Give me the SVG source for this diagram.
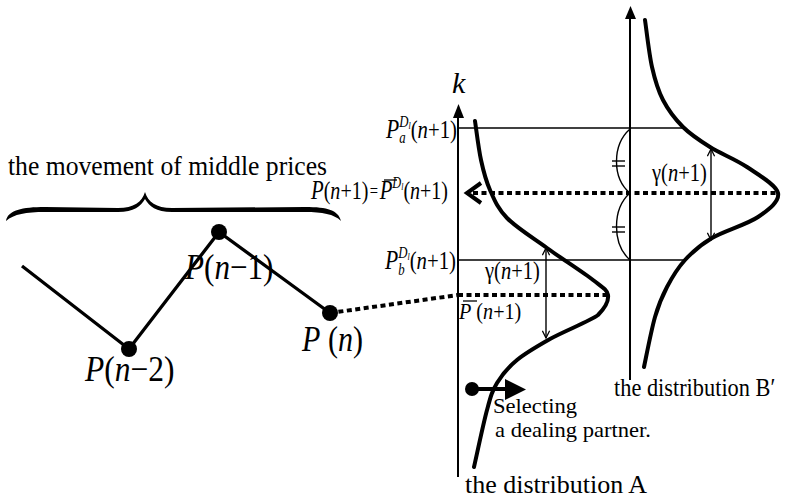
<svg xmlns="http://www.w3.org/2000/svg" width="800" height="501" viewBox="0 0 800 501">
<defs>
<style>
.t{font-family:"Liberation Serif","Times New Roman",serif;fill:#000}
.i{font-style:italic}
.thin{stroke:#000;stroke-width:1.4;fill:none}
.axis{stroke:#000;stroke-width:2;fill:none}
.curve{stroke:#000;stroke-width:4;fill:none;stroke-linecap:round}
.dash{stroke:#000;stroke-width:4;fill:none;stroke-dasharray:5 3.5}
.solid{stroke:#000;stroke-width:3.3;fill:none}
.ov{stroke:#000;stroke-width:1.3}
</style>
<marker id="vh" viewBox="0 0 10 10" refX="9" refY="5" markerWidth="9" markerHeight="9" markerUnits="userSpaceOnUse" orient="auto-start-reverse">
<path d="M1,1 L9,5 L1,9" fill="none" stroke="#000" stroke-width="1.4"/>
</marker>
</defs>
<rect width="800" height="501" fill="#fff"/>

<g id="price-path">
<text class="t" transform="translate(8,175) scale(0.95,1)" font-size="27">the movement of middle prices</text>
<path d="M6,221 C8,210 22,207 45,207 L118,208 C134,208 142,202 145,192 C148,202 156,208 172,208 L305,207 C328,207 338,210 341,221 C334,214 322,212 305,212 L172,212 C156,212 149,206 145,199 C141,206 134,212 118,212 L45,212 C26,212 14,214 6,221 Z" fill="#000"/>
<polyline class="solid" points="22,266 129,349 219,232 330,313"/>
</g>
<g id="node-pn2"><circle cx="129" cy="349" r="8"/><text class="t" transform="translate(85,381) scale(0.9,1)" font-size="35"><tspan class="i">P</tspan>(<tspan class="i">n</tspan>−2)</text></g>
<g id="node-pn1"><circle cx="219" cy="232" r="8"/><text class="t" transform="translate(185,279) scale(0.89,1)" font-size="35"><tspan class="i">P</tspan>(<tspan class="i">n</tspan>−1)</text></g>
<g id="node-pn"><circle cx="330" cy="313" r="8"/><text class="t" transform="translate(302,351) scale(0.86,1)" font-size="35"><tspan class="i">P</tspan> (<tspan class="i">n</tspan>)</text></g>

<g id="axis-A">
<line class="axis" x1="458" y1="116" x2="458" y2="477"/>
<polygon points="458.5,104 453,118 464,118"/>
<text class="t i" x="452" y="93" font-size="30">k</text>
<line class="thin" x1="458" y1="128" x2="683" y2="128"/>
<line class="thin" x1="458" y1="260" x2="685" y2="260"/>
</g>

<g id="axis-B">
<line class="axis" x1="630" y1="16" x2="630" y2="380"/>
<polygon points="630.5,6 625,19 636,19"/>
<path class="thin" d="M630,129 C612,145 612,178 630,193"/>
<path class="thin" d="M630,193 C612,209 612,244 630,260"/>
<line class="thin" x1="612" y1="161" x2="625" y2="161"/>
<line class="thin" x1="612" y1="166" x2="625" y2="166"/>
<line class="thin" x1="612" y1="227" x2="625" y2="227"/>
<line class="thin" x1="612" y1="232" x2="625" y2="232"/>
</g>

<g id="dist-A">
<path class="curve" d="M475,121 C476,127.5 478.5,148.5 481,160 C483.5,171.5 485.7,180.3 490,190 C494.3,199.7 497.5,208.3 507,218 C516.5,227.7 532.7,237.7 547,248 C561.3,258.3 582.8,272.2 593,280 C603.2,287.8 606.8,289.5 608,295 C608.8,300.5 606,307 598,315 C590.3,321 563.8,331.2 550,339 C536.2,346.8 525.8,352.7 517,360 C508.2,367.3 502,374.7 497,383 C492,391.3 490.8,396 487,410 C483.2,424 476.2,457.5 474,467"/>
<line class="thin" x1="546" y1="248" x2="546" y2="338" marker-start="url(#vh)" marker-end="url(#vh)"/>
<text class="t" transform="translate(485,279) scale(0.82,1)" font-size="25">γ(<tspan class="i">n</tspan>+1)</text>
<text class="t" transform="translate(459,319) scale(0.84,1)" font-size="24"><tspan class="i">P</tspan> (<tspan class="i">n</tspan>+1)</text>
<line class="ov" x1="463" y1="301" x2="477" y2="301"/>
<text class="t" x="465" y="493" font-size="26" textLength="182" lengthAdjust="spacingAndGlyphs">the distribution A</text>
</g>

<g id="dist-B">
<path class="curve" d="M645,20 C646.2,27.8 649,53.7 652,67 C655,80.3 657.8,90 663,100 C668.2,110 675.2,119.2 683,127 C690.8,134.8 699.3,140.3 710,147 C720.7,153.7 735.7,159.3 747,167 C758.3,174.7 776.2,184.7 778,193 C779.8,201.3 769,209.5 758,217 C747,224.5 724.2,230.8 712,238 C699.8,245.2 692.5,251.8 685,260 C677.5,268.2 672,277.5 667,287 C662,296.5 658.8,303.7 655,317 C651.2,330.3 645.8,358.7 644,367"/>
<line class="thin" x1="711" y1="149" x2="711" y2="240" marker-start="url(#vh)" marker-end="url(#vh)"/>
<text class="t" transform="translate(652,181) scale(0.82,1)" font-size="25">γ(<tspan class="i">n</tspan>+1)</text>
<text class="t" transform="translate(614,396) scale(0.86,1)" font-size="26">the distribution B′</text>
</g>

<g id="labels">
<text class="t" transform="translate(386,138) scale(0.8,1)" font-size="26"><tspan class="i" font-size="27">P</tspan><tspan class="i" font-size="16" dy="5">a</tspan><tspan class="i" font-size="16" dx="-8" dy="-16">D</tspan><tspan class="i" font-size="10" dy="2">l</tspan><tspan dy="9">(</tspan><tspan class="i">n</tspan>+1)</text>

<text class="t" transform="translate(385,269) scale(0.8,1)" font-size="26"><tspan class="i" font-size="27">P</tspan><tspan class="i" font-size="16" dy="6">b</tspan><tspan class="i" font-size="16" dx="-8" dy="-17">D</tspan><tspan class="i" font-size="10" dy="2">l</tspan><tspan dy="9">(</tspan><tspan class="i">n</tspan>+1)</text>

<text class="t" transform="translate(311,199) scale(0.77,1)" font-size="26"><tspan class="i" font-size="27">P</tspan>(<tspan class="i">n</tspan>+1)<tspan dx="2" dy="-2" font-size="19">=</tspan><tspan class="i" font-size="27" dx="2" dy="2">P</tspan><tspan class="i" font-size="16" dy="-11">D</tspan><tspan class="i" font-size="10" dy="2">l</tspan><tspan dy="9">(</tspan><tspan class="i">n</tspan>+1)</text>
<line class="ov" x1="384" y1="180" x2="397" y2="180"/>
</g>

<g id="partner">
<circle cx="472" cy="389" r="7"/>
<line x1="472" y1="389" x2="507" y2="389" stroke="#000" stroke-width="4"/>
<polygon points="505,379 526,389.5 505,400"/>
<text class="t" x="493" y="413" font-size="21" textLength="84" lengthAdjust="spacingAndGlyphs">Selecting</text>
<text class="t" x="495" y="437" font-size="21" textLength="156" lengthAdjust="spacingAndGlyphs">a dealing partner.</text>
</g>

<g id="connectors">
<line class="dash" x1="330" y1="313" x2="458" y2="295"/>
<line class="dash" x1="458" y1="295" x2="608" y2="295"/>
<line class="dash" x1="473" y1="193" x2="778" y2="193"/>
<polyline points="481,183 467,193 481,203" fill="none" stroke="#000" stroke-width="4"/>
</g>
</svg>
